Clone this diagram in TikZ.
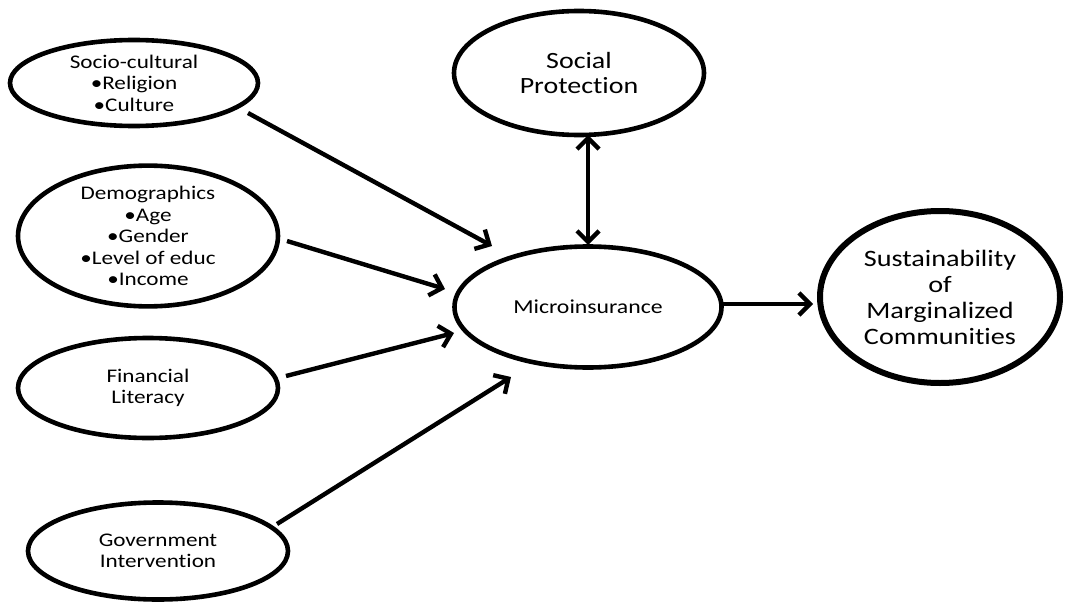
\documentclass[tikz,border=0pt]{standalone}
\usepackage{fontspec}
\setmainfont[FakeStretch=1.2,Ligatures=NoCommon]{Carlito}
\usetikzlibrary{shapes.geometric,arrows.meta}
\begin{document}
\begin{tikzpicture}[x=1pt,y=-1pt,
  oval/.style={draw, ellipse, line width=4.6pt, inner sep=0pt, align=center,
    font=\fontsize{19.3}{21.5}\selectfont},
  arr/.style={line width=4.4pt, -{Straight Barb[length=11pt,width=22pt]}},
  darr/.style={line width=4.4pt, {Straight Barb[length=11pt,width=22pt]}-{Straight Barb[length=11pt,width=22pt]}}
]
\useasboundingbox (0,0) rectangle (1071,602);
\node[oval, minimum width=248pt, minimum height=86pt] (soc) at (134,83)
  {Socio-cultural\\•Religion\\•Culture};
\node[oval, minimum width=260pt, minimum height=122pt] (dem) at (148,236)
  {Demographics\\•Age\\•Gender\\•Level of educ\\•Income};
\node[oval, minimum width=260pt, minimum height=100pt] (fin) at (148,388)
  {Financial\\Literacy};
\node[oval, minimum width=260pt, minimum height=97pt] (gov) at (158,551)
  {Government\\Intervention};
\node[oval, minimum width=250pt, minimum height=124pt,
  font=\fontsize{23.3}{25}\selectfont] (sp) at (579,73)
  {Social\\Protection};
\node[oval, minimum width=267pt, minimum height=121pt,
  font=\fontsize{19.8}{21.5}\selectfont] (mic) at (588,307)
  {Microinsurance};
\node[oval, line width=6pt, minimum width=240pt, minimum height=172pt,
  font=\fontsize{23.5}{26}\selectfont] (sus) at (940,297)
  {Sustainability\\of\\Marginalized\\Communities};
\draw[arr] ([shift={(114,30)}]soc.center) -- ([shift={(-96,-61)}]mic.center);
\draw[arr] ([shift={(139,5)}]dem.center) -- ([shift={(-143,-18)}]mic.center);
\draw[arr] ([shift={(138,-12)}]fin.center) -- ([shift={(-134,26)}]mic.center);
\draw[arr] ([shift={(119,-27)}]gov.center) -- ([shift={(-77,70)}]mic.center);
\draw[darr] ([shift={(9,62)}]sp.center) -- ([shift={(0,-62)}]mic.center);
\draw[arr] ([shift={(134,-3)}]mic.center) -- ([shift={(-127,7)}]sus.center);
\end{tikzpicture}
\end{document}
